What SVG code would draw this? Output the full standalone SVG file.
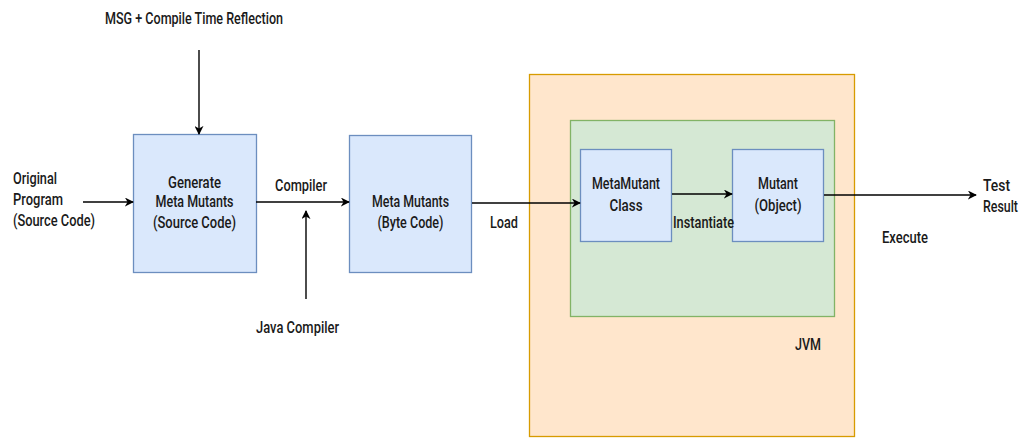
<svg xmlns="http://www.w3.org/2000/svg" width="1021" height="438" viewBox="0 0 1021 438">
  <style>
    .lbl { font-family: Roboto, "Liberation Sans", sans-serif; font-size: 16px; font-weight: 500; fill: #1a1a1a; }
    .mid { text-anchor: middle; }
    .blue { fill: #dae8fc; stroke: #6c8ebf; stroke-width: 1.3; }
    .edge { fill: none; stroke: #000; stroke-width: 1.4; marker-end: url(#arrow); }
  </style>
  <defs>
    <marker id="arrow" viewBox="0 0 10 10" refX="9" refY="5" markerWidth="9" markerHeight="9" markerUnits="userSpaceOnUse" orient="auto">
      <path d="M0,0 L10,5 L0,10 L3,5 z" fill="#000"/>
    </marker>
  </defs>
  <rect width="1021" height="438" fill="#fff"/>

  <!-- JVM container -->
  <g id="jvm">
    <rect x="529.5" y="74.5" width="325" height="362" fill="#ffe6cc" stroke="#d79b00" stroke-width="1.3"/>
    <text class="lbl" x="795" y="350" textLength="26" lengthAdjust="spacingAndGlyphs">JVM</text>
  </g>

  <!-- runtime area inside the JVM -->
  <g id="runtime">
    <rect x="570.5" y="120.5" width="264" height="196" fill="#d5e8d4" stroke="#82b366" stroke-width="1.3"/>
  </g>

  <!-- process nodes -->
  <g id="generate">
    <rect class="blue" x="133.5" y="134.5" width="123" height="138"/>
    <text class="lbl mid" x="194.5" y="188" textLength="53" lengthAdjust="spacingAndGlyphs">Generate</text>
    <text class="lbl mid" x="194.5" y="207" textLength="78" lengthAdjust="spacingAndGlyphs">Meta Mutants</text>
    <text class="lbl mid" x="194.5" y="228" textLength="83" lengthAdjust="spacingAndGlyphs">(Source Code)</text>
  </g>

  <g id="bytecode">
    <rect class="blue" x="349.5" y="135.5" width="122" height="137"/>
    <text class="lbl mid" x="410.5" y="207" textLength="77" lengthAdjust="spacingAndGlyphs">Meta Mutants</text>
    <text class="lbl mid" x="410.5" y="228" textLength="66" lengthAdjust="spacingAndGlyphs">(Byte Code)</text>
  </g>

  <g id="metamutant-class">
    <rect class="blue" x="580.5" y="149.5" width="91" height="92"/>
    <text class="lbl mid" x="626" y="189" textLength="68" lengthAdjust="spacingAndGlyphs">MetaMutant</text>
    <text class="lbl mid" x="626" y="211" textLength="33" lengthAdjust="spacingAndGlyphs">Class</text>
  </g>

  <g id="mutant">
    <rect class="blue" x="732.5" y="149.5" width="91" height="92"/>
    <text class="lbl mid" x="778" y="189" textLength="40" lengthAdjust="spacingAndGlyphs">Mutant</text>
    <text class="lbl mid" x="778" y="211" textLength="47" lengthAdjust="spacingAndGlyphs">(Object)</text>
  </g>

  <!-- free-standing inputs and outputs -->
  <g id="msg">
    <text class="lbl mid" x="194" y="24" textLength="178" lengthAdjust="spacingAndGlyphs">MSG + Compile Time Reflection</text>
  </g>
  <g id="original-program">
    <text class="lbl" x="13" y="184" textLength="44" lengthAdjust="spacingAndGlyphs">Original</text>
    <text class="lbl" x="13" y="205" textLength="50" lengthAdjust="spacingAndGlyphs">Program</text>
    <text class="lbl" x="13" y="226" textLength="82" lengthAdjust="spacingAndGlyphs">(Source Code)</text>
  </g>
  <g id="java-compiler">
    <text class="lbl mid" x="297.5" y="333" textLength="83" lengthAdjust="spacingAndGlyphs">Java Compiler</text>
  </g>
  <g id="test-result">
    <text class="lbl" x="983" y="191" textLength="27" lengthAdjust="spacingAndGlyphs">Test</text>
    <text class="lbl" x="983" y="212" textLength="35" lengthAdjust="spacingAndGlyphs">Result</text>
  </g>

  <!-- connectors -->
  <g id="connectors">
    <path class="edge" d="M199,50 L199,134"/>
    <path class="edge" d="M83,202 L133,202"/>
    <path class="edge" d="M256,202 L349,202"/>
    <path class="edge" d="M306,299 L306,211"/>
    <path class="edge" d="M472,203 L580,203"/>
    <path class="edge" d="M672,194 L732,194"/>
    <path class="edge" d="M824,195 L976,195"/>
    <text class="lbl" x="275" y="191" textLength="52" lengthAdjust="spacingAndGlyphs">Compiler</text>
    <text class="lbl" x="490" y="228" textLength="28" lengthAdjust="spacingAndGlyphs">Load</text>
    <text class="lbl" x="673" y="228" textLength="61" lengthAdjust="spacingAndGlyphs">Instantiate</text>
    <text class="lbl" x="882" y="243" textLength="46" lengthAdjust="spacingAndGlyphs">Execute</text>
  </g>
</svg>
